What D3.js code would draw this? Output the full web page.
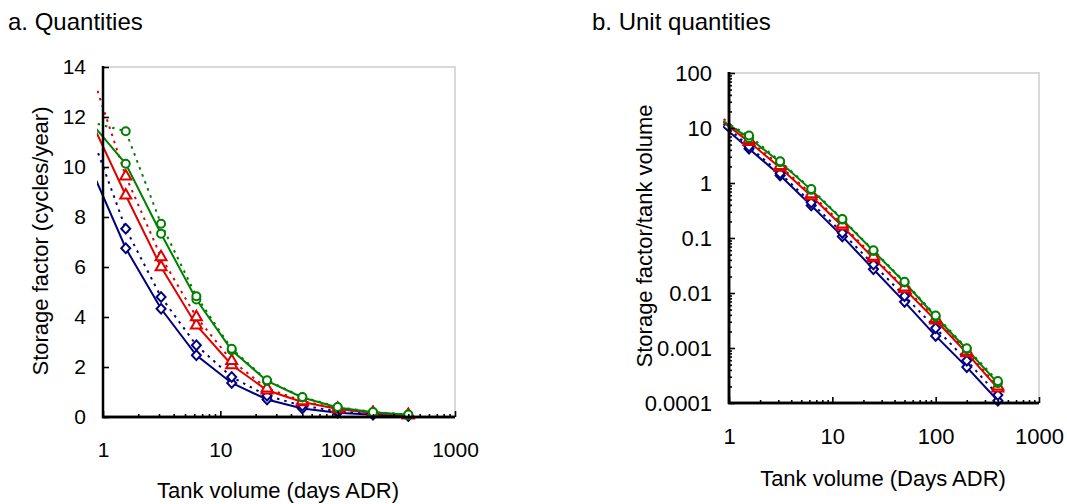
<!DOCTYPE html>
<html>
<head>
<meta charset="utf-8">
<script src="https://cdn.jsdelivr.net/npm/d3@7"></script>
<style>
  body { margin: 0; background: #fff; }
  text { font-family: "Liberation Sans", Arial, sans-serif; fill: #000; }
</style>
</head>
<body>
<svg width="1067" height="504"></svg>
<script>
// tank volume (days ADR), first point lies left of the axis and is clipped
const tankVolume = [0.78125, 1.5625, 3.125, 6.25, 12.5, 25, 50, 100, 200, 400];

// a. quantities (cycles/year)
const qtyBlueSolid   = [10.0, 6.75, 4.33, 2.47, 1.36, 0.70, 0.34, 0.17, 0.09, 0.044];
const qtyBlueDotted  = [11.4, 7.53, 4.80, 2.87, 1.60, 0.85, 0.45, 0.23, 0.12, 0.058];
const qtyRedSolid    = [11.9, 8.87, 6.00, 3.67, 2.08, 1.07, 0.60, 0.32, 0.16, 0.074];
const qtyRedDotted   = [13.9, 9.63, 6.40, 4.00, 2.25, 1.15, 0.64, 0.34, 0.17, 0.080];
const qtyGreenSolid  = [11.8, 10.13, 7.33, 4.70, 2.67, 1.44, 0.78, 0.38, 0.19, 0.092];
const qtyGreenDotted = [11.8, 11.43, 7.73, 4.83, 2.73, 1.47, 0.80, 0.40, 0.20, 0.100];

// b. unit quantities (storage factor / tank volume)
const unitBlueSolid   = [12.8, 4.2, 1.37, 0.39, 0.107, 0.027, 0.0069, 0.00166, 0.00045, 0.00011];
const unitBlueDotted  = [14.6, 4.6, 1.50, 0.44, 0.124, 0.033, 0.0088, 0.0023, 0.00059, 0.00014];
const unitRedSolid    = [15.2, 5.6, 1.90, 0.58, 0.163, 0.043, 0.0118, 0.0032, 0.00081, 0.000185];
const unitRedDotted   = [17.8, 6.1, 2.05, 0.63, 0.178, 0.046, 0.0127, 0.0034, 0.00086, 0.0002];
const unitGreenSolid  = [15.1, 6.6, 2.38, 0.75, 0.216, 0.058, 0.0155, 0.0037, 0.00095, 0.00023];
const unitGreenDotted = [15.1, 7.3, 2.48, 0.78, 0.222, 0.060, 0.0160, 0.0039, 0.00099, 0.00025];

const xTickValues = [1, 10, 100, 1000];
const xTickLabels = ["1", "10", "100", "1000"];
const yTicksA = [0, 2, 4, 6, 8, 10, 12, 14];
const yTicksB = [0.0001, 0.001, 0.01, 0.1, 1, 10, 100];
const yTickLabelsB = ["0.0001", "0.001", "0.01", "0.1", "1", "10", "100"];

const NAVY = "#000080", RED = "#e00000", GREEN = "#008000";

function seriesList(b1, b2, r1, r2, g1, g2) {
  return [
    { values: b1, color: NAVY, dotted: false, marker: "diamond" },
    { values: b2, color: NAVY, dotted: true, marker: "diamond" },
    { values: r1, color: RED, dotted: false, marker: "triangle" },
    { values: r2, color: RED, dotted: true, marker: "triangle" },
    { values: g1, color: GREEN, dotted: false, marker: "circle" },
    { values: g2, color: GREEN, dotted: true, marker: "circle" }
  ];
}

const svg = d3.select("svg");

// minor log ticks between 1 and 1000
const minorX = [];
[1, 10, 100].forEach(d => { for (let k = 2; k <= 9; k++) minorX.push(d * k); });

// squarish diamond like the spreadsheet marker
const squareDiamond = {
  draw(ctx, size) {
    const r = Math.sqrt(size) / 1.6;
    ctx.moveTo(0, -r * 1.08);
    ctx.lineTo(r, 0);
    ctx.lineTo(0, r * 1.08);
    ctx.lineTo(-r, 0);
    ctx.closePath();
  }
};

function drawPanel(p) {
  const x = d3.scaleLog().domain([1, 1000]).range([p.left, p.right]);
  const y = p.yScale.range([p.bottom, p.top]);
  const g = svg.append("g");

  // light frame on top and right
  g.append("path")
    .attr("d", `M${p.left},${p.top}H${p.right}V${p.bottom}`)
    .attr("fill", "none").attr("stroke", "#d9d9d9").attr("stroke-width", 2);

  const clipId = "clip" + p.id;
  svg.append("clipPath").attr("id", clipId)
    .append("rect")
    .attr("x", p.left - 6).attr("y", p.top - 20)
    .attr("width", p.right - p.left + 6).attr("height", p.bottom - p.top + 20);

  const line = d3.line().x((d, i) => x(tankVolume[i])).y(d => y(d));
  const sym = {
    diamond: d3.symbol().type(squareDiamond).size(52),
    triangle: d3.symbol().type(d3.symbolTriangle).size(52),
    circle: d3.symbol().type(d3.symbolCircle).size(50)
  };

  p.series.forEach(s => {
    g.append("path")
      .attr("clip-path", `url(#${clipId})`)
      .attr("d", line(s.values))
      .attr("fill", "none")
      .attr("stroke", s.color)
      .attr("stroke-width", 2)
      .attr("stroke-dasharray", s.dotted ? "2.5,5" : null);
  });
  p.series.forEach(s => {
    g.selectAll(null)
      .data(s.values.map((v, i) => [tankVolume[i], v]).filter(d => d[0] >= 1))
      .join("path")
      .attr("transform", d => `translate(${x(d[0])},${y(d[1])})`)
      .attr("d", sym[s.marker])
      .attr("fill", "#fff")
      .attr("stroke", s.color)
      .attr("stroke-width", 2);
  });

  // x axis
  const xAxis = g.append("g").attr("transform", `translate(0,${p.bottom})`);
  xAxis.call(d3.axisBottom(x).tickValues(minorX).tickFormat("").tickSizeInner(-3).tickSizeOuter(0));
  xAxis.append("g").call(d3.axisBottom(x).tickValues(xTickValues)
    .tickFormat((d, i) => xTickLabels[i]).tickSizeInner(-6).tickSizeOuter(0).tickPadding(25));
  xAxis.selectAll(".domain").attr("stroke", "#000").attr("stroke-width", 2.5)
    .attr("d", `M${p.left - 1},0H${p.right}`);

  // y axis
  const yAxis = g.append("g").attr("transform", `translate(${p.left},0)`);
  if (p.minorY) {
    yAxis.call(d3.axisLeft(y).tickValues(p.minorY).tickFormat("").tickSizeInner(-3).tickSizeOuter(0));
  }
  yAxis.append("g").call(d3.axisLeft(y).tickValues(p.yTicks)
    .tickFormat((d, i) => p.yLabels[i]).tickSizeInner(-6).tickSizeOuter(0).tickPadding(17));
  yAxis.selectAll(".domain").attr("stroke", "#000").attr("stroke-width", 2.5)
    .attr("d", `M0,${p.top - 1}V${p.bottom + 1}`);
  g.selectAll(".tick line").attr("stroke", "#000").attr("stroke-width", 1.6);
  g.selectAll(".tick text").style("font-size", p.tickFont).attr("fill", "#000")
    .style("font-family", '"Liberation Sans", Arial, sans-serif');

  // titles
  svg.append("text").attr("x", p.titleX).attr("y", 30)
    .style("font-size", "24px").text(p.title);
  svg.append("text").attr("x", p.xTitleX).attr("y", p.xTitleY)
    .attr("text-anchor", "middle").style("font-size", "22px").text(p.xTitle);
  svg.append("text")
    .attr("transform", `translate(${p.yTitleX},${p.yTitleY}) rotate(-90)`)
    .attr("text-anchor", "middle").style("font-size", "22px").text(p.yTitle);
}

const minorYB = [];
[0.0001, 0.001, 0.01, 0.1, 1, 10].forEach(d => { for (let k = 2; k <= 9; k++) minorYB.push(d * k); });

drawPanel({
  id: "a", left: 103, right: 455, top: 67, bottom: 417, tickFont: "21px",
  yScale: d3.scaleLinear().domain([0, 14]),
  yTicks: yTicksA, yLabels: yTicksA.map(String),
  series: seriesList(qtyBlueSolid, qtyBlueDotted, qtyRedSolid, qtyRedDotted, qtyGreenSolid, qtyGreenDotted),
  title: "a. Quantities", titleX: 8,
  xTitle: "Tank volume (days ADR)", xTitleX: 278, xTitleY: 498,
  yTitle: "Storage factor (cycles/year)", yTitleX: 48, yTitleY: 241
});

drawPanel({
  id: "b", left: 729, right: 1039, top: 73, bottom: 403, tickFont: "22px",
  yScale: d3.scaleLog().domain([0.0001, 100]),
  yTicks: yTicksB, yLabels: yTickLabelsB, minorY: minorYB,
  series: seriesList(unitBlueSolid, unitBlueDotted, unitRedSolid, unitRedDotted, unitGreenSolid, unitGreenDotted),
  title: "b. Unit quantities", titleX: 592,
  xTitle: "Tank volume (Days ADR)", xTitleX: 883, xTitleY: 486,
  yTitle: "Storage factor/tank volume", yTitleX: 652, yTitleY: 236
});
</script>
</body>
</html>
